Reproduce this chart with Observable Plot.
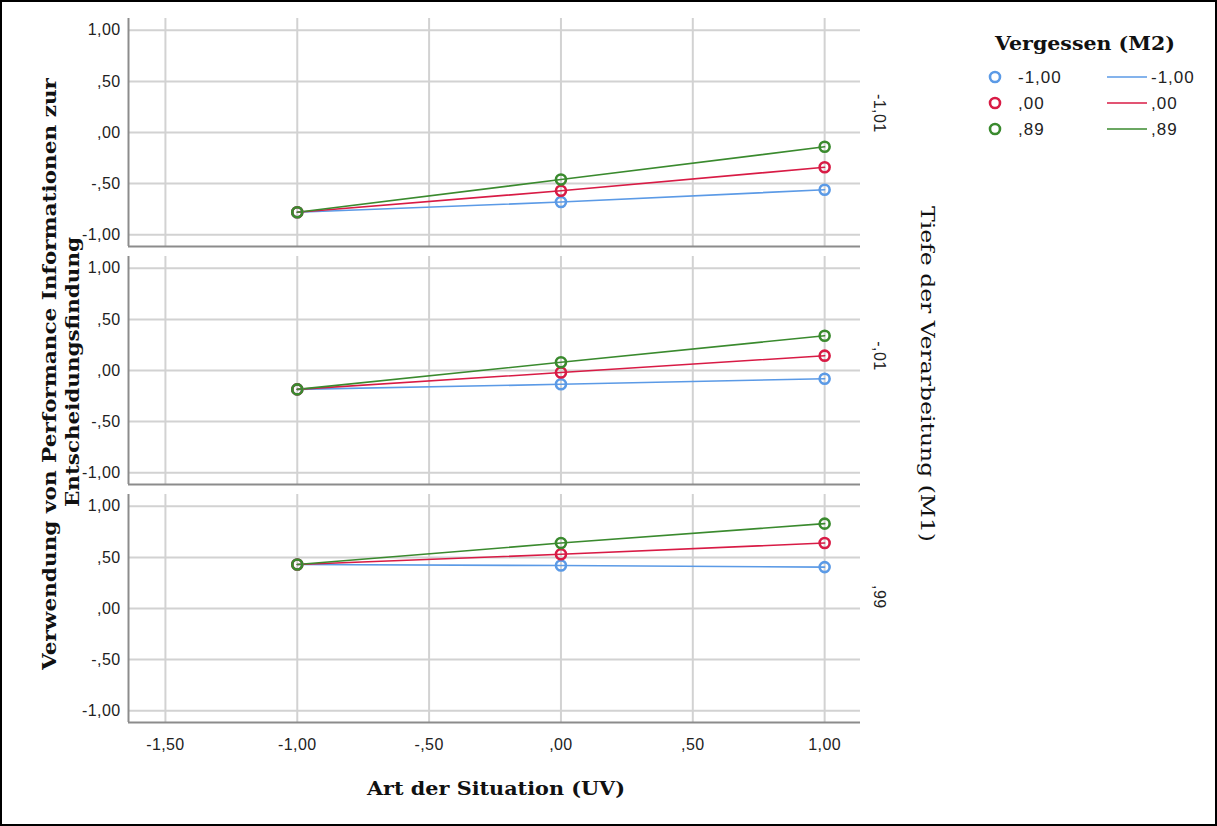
<!DOCTYPE html>
<html>
<head>
<meta charset="utf-8">
<script src="https://cdn.jsdelivr.net/npm/d3@7"></script>
<script src="https://cdn.jsdelivr.net/npm/@observablehq/plot@0.6"></script>
<style>
  html, body { margin: 0; padding: 0; background: #fff; }
  #box { width: 1217px; height: 826px; border: 2px solid #000; box-sizing: border-box; overflow: hidden; }
</style>
</head>
<body>
<div id="box"></div>
<script>
// ---- data ----
const xValues = [-1, 0, 1];
const panels = ["-1,01", "-,01", ",99"];
const seriesNames = ["-1,00", ",00", ",89"];
const seriesColors = ["#5b9ae6", "#d81b45", "#3a8a2e"];

// panel "-1,01"
const p1Blue  = [-0.78, -0.68, -0.56];
const p1Red   = [-0.78, -0.57, -0.34];
const p1Green = [-0.78, -0.46, -0.14];
// panel "-,01"
const p2Blue  = [-0.185, -0.135, -0.08];
const p2Red   = [-0.185, -0.02, 0.145];
const p2Green = [-0.185, 0.08, 0.34];
// panel ",99"
const p3Blue  = [0.43, 0.42, 0.405];
const p3Red   = [0.43, 0.53, 0.64];
const p3Green = [0.43, 0.64, 0.83];

const xTicks = [-1.5, -1, -0.5, 0, 0.5, 1];
const xTickLabels = ["-1,50", "-1,00", "-,50", ",00", ",50", "1,00"];
const yTicks = [-1, -0.5, 0, 0.5, 1];
const yTickLabels = ["-1,00", "-,50", ",00", ",50", "1,00"];

// ---- build table ----
const table = [];
const panelSeries = [
  [p1Blue, p1Red, p1Green],
  [p2Blue, p2Red, p2Green],
  [p3Blue, p3Red, p3Green]
];
panels.forEach((p, pi) => {
  seriesNames.forEach((s, si) => {
    xValues.forEach((x, xi) => {
      table.push({panel: p, series: s, x, y: panelSeries[pi][si][xi]});
    });
  });
});

const W = 1213, H = 822;
const xMin = -1.64, xMax = 1.136, yMin = -1.115, yMax = 1.115;
const sans = "'Liberation Sans', Arial, sans-serif";

const chart = Plot.plot({
  width: W, height: H,
  marginLeft: 126, marginRight: W - 858, marginTop: 15, marginBottom: H - 721,
  style: {fontFamily: sans, fontSize: "16px", letterSpacing: "0.4px", color: "#222", background: "#fff"},
  x: {domain: [xMin, xMax], ticks: xTicks, tickFormat: d => xTickLabels[xTicks.indexOf(d)], tickSize: 0, tickPadding: 16, label: null},
  y: {domain: [yMin, yMax], ticks: yTicks, tickFormat: d => yTickLabels[yTicks.indexOf(d)], tickSize: 0, tickPadding: 8, label: null},
  fy: {domain: panels, axis: null, paddingInner: 0.043, paddingOuter: 0},
  color: {domain: seriesNames, range: seriesColors},
  marks: [
    Plot.ruleX(xTicks, {stroke: "#d2d2d2", strokeWidth: 2}),
    Plot.ruleY(yTicks, {stroke: "#d2d2d2", strokeWidth: 2}),
    Plot.ruleX([xMin], {stroke: "#8c8c8c", strokeWidth: 2}),
    Plot.ruleY([yMin], {stroke: "#8c8c8c", strokeWidth: 2}),
    Plot.line(table, {x: "x", y: "y", z: "series", stroke: "series", fy: "panel", strokeWidth: 1.6}),
    Plot.dot(table, {x: "x", y: "y", stroke: "series", fy: "panel", r: 5, strokeWidth: 2.6, fill: "none"}),
    Plot.text(panels, {fy: d => d, text: d => d, frameAnchor: "right", dx: 19, rotate: 90, fontSize: 16, fill: "#222"})
  ]
});

document.getElementById("box").appendChild(chart);

// ---- titles & legend (real text appended to the Plot SVG) ----
const svg = d3.select(chart);
const serif = "'DejaVu Serif', 'Liberation Serif', serif";

// y title (two lines)
svg.append("text")
  .attr("transform", "translate(47,372) rotate(-90)")
  .attr("text-anchor", "middle").attr("dominant-baseline", "central")
  .attr("font-family", serif).attr("font-weight", "bold").attr("font-size", 19)
  .attr("letter-spacing", 0)
  .attr("textLength", 592).attr("lengthAdjust", "spacingAndGlyphs")
  .attr("fill", "#111")
  .text("Verwendung von Performance Informationen zur");
svg.append("text")
  .attr("transform", "translate(70,370) rotate(-90)")
  .attr("text-anchor", "middle").attr("dominant-baseline", "central")
  .attr("font-family", serif).attr("font-weight", "bold").attr("font-size", 19)
  .attr("letter-spacing", 0)
  .attr("textLength", 270).attr("lengthAdjust", "spacingAndGlyphs")
  .attr("fill", "#111")
  .text("Entscheidungsfindung");

// x title
svg.append("text")
  .attr("x", 494).attr("y", 786)
  .attr("text-anchor", "middle").attr("dominant-baseline", "central")
  .attr("font-family", serif).attr("font-weight", "bold").attr("font-size", 19)
  .attr("letter-spacing", 0)
  .attr("textLength", 258).attr("lengthAdjust", "spacingAndGlyphs")
  .attr("fill", "#111")
  .text("Art der Situation (UV)");

// right title
svg.append("text")
  .attr("transform", "translate(926,372) rotate(90)")
  .attr("text-anchor", "middle").attr("dominant-baseline", "central")
  .attr("font-family", serif).attr("font-size", 19)
  .attr("letter-spacing", 0)
  .attr("textLength", 336).attr("lengthAdjust", "spacingAndGlyphs")
  .attr("fill", "#111")
  .text("Tiefe der Verarbeitung (M1)");

// legend
const color = chart.scale("color");
svg.append("text")
  .attr("x", 1083).attr("y", 41)
  .attr("text-anchor", "middle").attr("dominant-baseline", "central")
  .attr("font-family", serif).attr("font-weight", "bold").attr("font-size", 19)
  .attr("letter-spacing", 0)
  .attr("textLength", 180).attr("lengthAdjust", "spacingAndGlyphs")
  .attr("fill", "#111")
  .text("Vergessen (M2)");
const rowY = [75, 101, 127];
seriesNames.forEach((s, i) => {
  const c = color.apply(s);
  const g = svg.append("g");
  g.append("circle").attr("cx", 993).attr("cy", rowY[i]).attr("r", 5)
    .attr("fill", "none").attr("stroke", c).attr("stroke-width", 2.6);
  g.append("text").attr("x", 1016).attr("y", rowY[i])
    .attr("text-anchor", "start").attr("dominant-baseline", "central")
    .attr("font-family", sans).attr("font-size", 17).attr("letter-spacing", 1)
    .attr("fill", "#222")
    .text(s);
  g.append("line").attr("x1", 1105).attr("x2", 1145).attr("y1", rowY[i]).attr("y2", rowY[i])
    .attr("stroke", c).attr("stroke-width", 1.6);
  g.append("text").attr("x", 1149).attr("y", rowY[i])
    .attr("text-anchor", "start").attr("dominant-baseline", "central")
    .attr("font-family", sans).attr("font-size", 17).attr("letter-spacing", 1)
    .attr("fill", "#222")
    .text(s);
});
</script>
</body>
</html>
